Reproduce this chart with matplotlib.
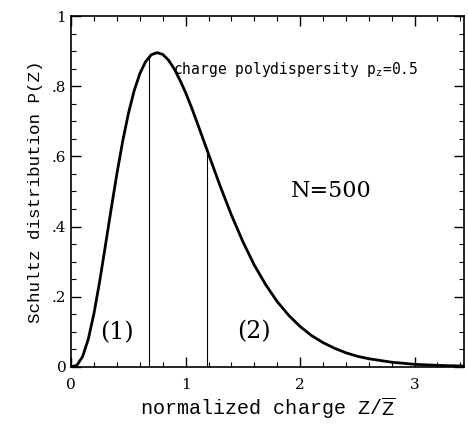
import numpy as np
import matplotlib
matplotlib.use('Agg')
import matplotlib.pyplot as plt
from matplotlib.ticker import MultipleLocator, FuncFormatter

# Schultz distribution
z_norm = [0.0, 0.05, 0.1, 0.15, 0.2, 0.25, 0.3, 0.35, 0.4, 0.45, 0.5, 0.55, 0.6,
          0.65, 0.7, 0.75, 0.8, 0.85, 0.9, 0.95, 1.0, 1.05, 1.1, 1.15, 1.2, 1.3,
          1.4, 1.5, 1.6, 1.7, 1.8, 1.9, 2.0, 2.1, 2.2, 2.3, 2.4, 2.5, 2.6, 2.8,
          3.0, 3.2, 3.43]
p_z = [0.0, 0.004, 0.029, 0.079, 0.153, 0.245, 0.347, 0.451, 0.551, 0.643, 0.722,
       0.787, 0.836, 0.870, 0.890, 0.896, 0.891, 0.875, 0.850, 0.818, 0.782, 0.741,
       0.697, 0.652, 0.607, 0.517, 0.433, 0.357, 0.290, 0.234, 0.186, 0.147, 0.115,
       0.089, 0.069, 0.053, 0.040, 0.030, 0.023, 0.013, 0.007, 0.004, 0.002]
cuts = [0.68, 1.19]

plt.rcParams['font.family'] = 'DejaVu Serif'
plt.rcParams['mathtext.fontset'] = 'custom'
plt.rcParams['mathtext.rm'] = 'Liberation Mono'

fig = plt.figure(figsize=(4.68, 4.26), dpi=100)
ax = fig.add_axes([0.152, 0.139, 0.839, 0.823])

ax.plot(z_norm, p_z, color='black', lw=2.0)
for c in cuts:
    ax.plot([c, c], [0, np.interp(c, z_norm, p_z)], color='black', lw=0.8)

ax.set_xlim(0, 3.43)
ax.set_ylim(0, 1.0)
ax.xaxis.set_major_locator(MultipleLocator(1))
ax.xaxis.set_minor_locator(MultipleLocator(0.2))
ax.yaxis.set_major_locator(MultipleLocator(0.2))
ax.yaxis.set_minor_locator(MultipleLocator(0.05))


def fmt(v, pos):
    s = '%g' % round(v, 2)
    if s.startswith('0.'):
        s = s[1:]
    return s


ax.xaxis.set_major_formatter(FuncFormatter(fmt))
ax.yaxis.set_major_formatter(FuncFormatter(fmt))
ax.tick_params(which='both', direction='in', top=True, right=True, labelsize=11)
ax.tick_params(which='major', length=7, width=1)
ax.tick_params(which='minor', length=3.5, width=0.8)
ax.tick_params(axis='x', pad=8)
for s in ax.spines.values():
    s.set_linewidth(1.2)

ax.set_xlabel(r'normalized charge Z/$\overline{\mathrm{Z}}$', fontsize=14.5,
              family='Liberation Mono', labelpad=2)
ax.set_ylabel('Schultz distribution P(Z)', fontsize=12.6,
              family='Liberation Mono', labelpad=6)

ax.text(0.89, 0.848, r'charge polydispersity p$_\mathrm{z}$=0.5', fontsize=10.5,
        family='DejaVu Sans Mono', va='center')
ax.text(2.27, 0.50, 'N=500', fontsize=16, ha='center', va='center')
ax.text(0.40, 0.097, '(1)', fontsize=17, ha='center', va='center')
ax.text(1.60, 0.10, '(2)', fontsize=17, ha='center', va='center')

fig.savefig('out.png', dpi=100)
